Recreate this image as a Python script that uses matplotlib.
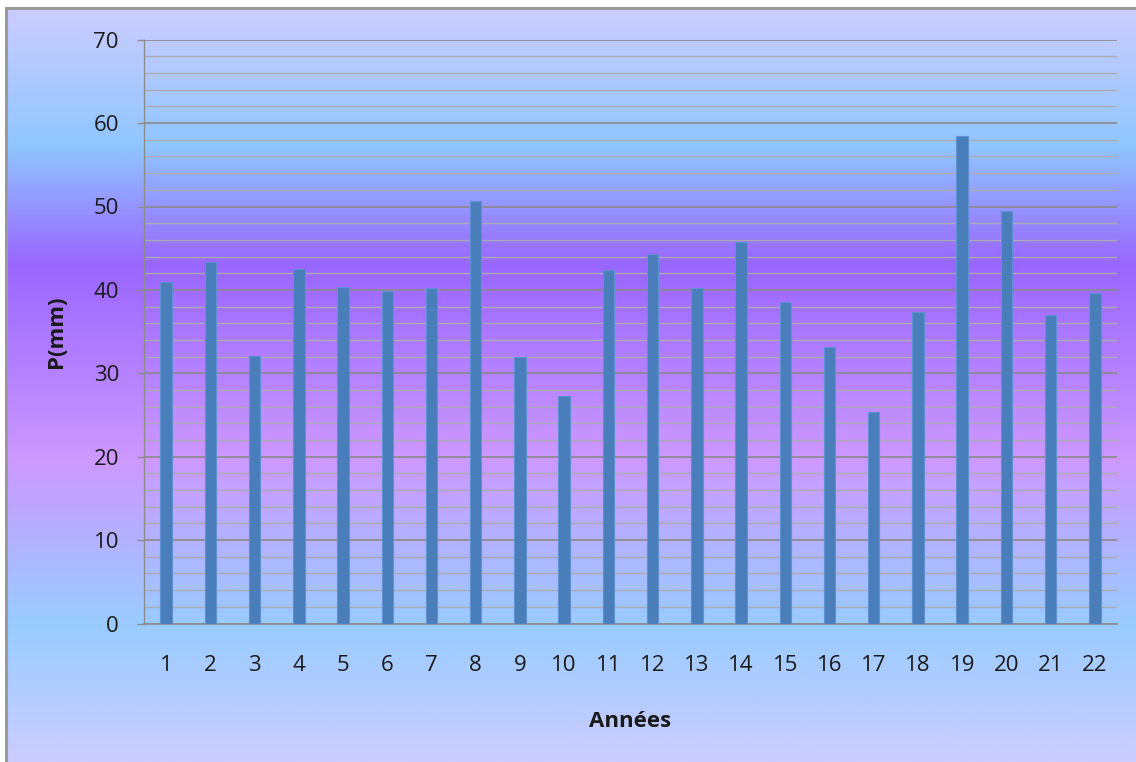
import numpy as np
import matplotlib
matplotlib.use("Agg")
import matplotlib.pyplot as plt
from matplotlib.colors import LinearSegmentedColormap

# Annual precipitation per year index
years = [str(i) for i in range(1, 23)]
precip_mm = [41.0, 43.3, 32.1, 42.5, 40.4, 39.9, 40.2, 50.7, 31.9, 27.3, 42.4,
             44.3, 40.2, 45.7, 38.5, 33.2, 25.3, 37.3, 58.5, 49.5, 37.0, 39.6]
y_ticks = [0, 10, 20, 30, 40, 50, 60, 70]

W, H, DPI = 1136, 762, 100
fig = plt.figure(figsize=(W / DPI, H / DPI), dpi=DPI)
fig.patch.set_facecolor("white")

plt.rcParams["font.family"] = ["Open Sans", "DejaVu Sans"]

# Chart area background: vertical multi-stop gradient
x0, y0 = 6 / W, 0.0
bg = fig.add_axes([x0, y0, 1 - x0, 1 - 8 / H], zorder=0)
stops = [(0.0, "#CCCCFF"), (0.18, "#90C6FF"), (0.34, "#9966FF"),
         (0.60, "#CC99FF"), (0.82, "#99CCFF"), (1.0, "#CCCCFF")]
cmap = LinearSegmentedColormap.from_list("chart_bg", stops)
grad = np.linspace(0, 1, 512).reshape(-1, 1)
bg.imshow(grad, aspect="auto", cmap=cmap, extent=[0, 1, 0, 1], origin="upper")
bg.set_xlim(0, 1)
bg.set_ylim(0, 1)
bg.axis("off")
# Outer frame on the left and top edges
fig.add_artist(plt.Line2D([x0, x0], [0, 1 - 8 / H], color="#9A9A9A", lw=2.2,
                          transform=fig.transFigure))
fig.add_artist(plt.Line2D([x0, 1], [1 - 8 / H, 1 - 8 / H], color="#9A9A9A", lw=2.2,
                          transform=fig.transFigure))

# Plot area
left, right = 144 / W, 1117 / W
bottom, top = 1 - 623.5 / H, 1 - 39.7 / H
ax = fig.add_axes([left, bottom, right - left, top - bottom], zorder=1)
ax.patch.set_alpha(0)

x = np.arange(len(years))
ax.bar(x, precip_mm, width=0.26, color="#4A7EBB", edgecolor="#5E90D2",
       linewidth=0.8, zorder=3)

ax.set_xlim(-0.5, len(years) - 0.5)
ax.set_ylim(0, 70)
ax.set_yticks(y_ticks)
ax.set_yticks(np.arange(0, 71, 2), minor=True)
ax.set_xticks(x)
ax.set_xticklabels(years)

ax.grid(axis="y", which="minor", color="#ABABB2", lw=1.0, zorder=1)
ax.grid(axis="y", which="major", color="#8A8A8A", lw=1.2, zorder=2)
ax.grid(axis="x", visible=False)

for s in ["top", "right"]:
    ax.spines[s].set_visible(False)
ax.spines["left"].set_color("#8C8C8C")
ax.spines["bottom"].set_color("#8C8C8C")
ax.spines["left"].set_linewidth(1.0)
ax.spines["bottom"].set_linewidth(1.2)

ax.tick_params(axis="y", which="major", length=5, width=1.0, color="#8C8C8C",
               pad=13, labelsize=16, labelcolor="#1A1A1A")
ax.tick_params(axis="y", which="minor", length=0)
ax.tick_params(axis="x", length=0, pad=23, labelsize=16, labelcolor="#1A1A1A")

ax.set_xlabel("Années", fontsize=16, fontweight="bold", labelpad=25, color="#1A1A1A")
ax.set_ylabel("P(mm)", fontsize=16, fontweight="bold", labelpad=19, color="#1A1A1A")

fig.savefig("out.png", dpi=DPI)
